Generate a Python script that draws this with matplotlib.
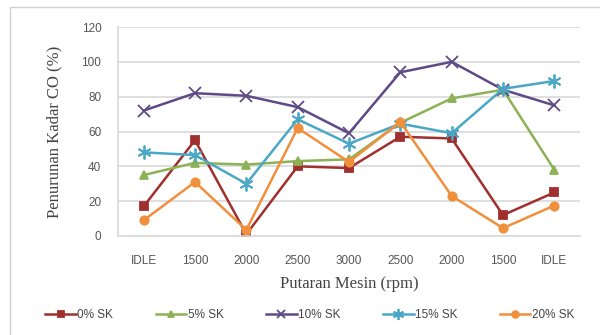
import matplotlib.pyplot as plt
from matplotlib.patches import Rectangle

# engine speed steps (up then down)
rpm_labels = ["IDLE", "1500", "2000", "2500", "3000", "2500", "2000", "1500", "IDLE"]

sk0 = [17, 55, 1, 40, 39, 57, 56, 12, 25]
sk5 = [35, 42, 41, 43, 44, 65, 79, 84, 38]
sk10 = [72, 82, 80.5, 74, 59, 94, 100, 84, 75]
sk15 = [48, 46.5, 30, 67, 53, 64.5, 59, 84.5, 89]
sk20 = [9, 31, 3.5, 62, 42.5, 65.5, 23, 4.5, 17.5]

series = [
    ("0% SK", sk0, "#A0302E", "s", 6),
    ("5% SK", sk5, "#8DB255", "^", 6),
    ("10% SK", sk10, "#5E4A87", "x", 8),
    ("15% SK", sk15, "#4AA8C6", (6, 2, 0), 10),
    ("20% SK", sk20, "#F08F3C", "o", 6),
]

fig = plt.figure(figsize=(6, 3.35), dpi=100)
fig.patches.append(Rectangle((10 / 600, -0.01), 1.0, 1 - 7 / 335 + 0.01,
                             transform=fig.transFigure, fill=False,
                             edgecolor="#D0D0D0", linewidth=1))
ax = fig.add_axes([118 / 600, 1 - 236 / 335, 462 / 600, 209 / 335])

x = list(range(len(rpm_labels)))
for name, vals, color, marker, ms in series:
    ax.plot(x, vals, color=color, marker=marker, markersize=ms, linewidth=1.8,
            markeredgewidth=1.3, label=name)

ax.set_xlim(-0.5, len(rpm_labels) - 0.5)
ax.set_ylim(0, 120)
ax.set_yticks(range(0, 121, 20))
ax.set_xticks(x)
ax.set_xticklabels(rpm_labels)
ax.yaxis.grid(True, color="#D9D9D9", linewidth=1.2)
ax.set_axisbelow(True)
for side in ["top", "right"]:
    ax.spines[side].set_visible(False)
for side in ["left", "bottom"]:
    ax.spines[side].set_color("#D9D9D9")
    ax.spines[side].set_linewidth(1.2)
ax.tick_params(length=0, labelsize=8.5, colors="#555555")
ax.tick_params(axis="x", pad=14)
ax.tick_params(axis="y", pad=12)
for lbl in ax.get_xticklabels() + ax.get_yticklabels():
    lbl.set_family("Liberation Sans")

ax.set_xlabel("Putaran Mesin (rpm)", family="Liberation Serif", fontsize=12,
              color="#444444", labelpad=6)
ax.set_ylabel("Penurunan Kadar CO (%)", family="Liberation Serif", fontsize=12,
              color="#444444", labelpad=14)

ax.legend(loc="upper center", bbox_to_anchor=(0.415, -0.30), ncol=5, frameon=False,
          prop={"family": "Liberation Sans", "size": 8.5}, handlelength=2.6,
          handletextpad=0.1, columnspacing=3.6, labelcolor="#444444",
          markerscale=0.8)

fig.savefig("out.png", dpi=100)
